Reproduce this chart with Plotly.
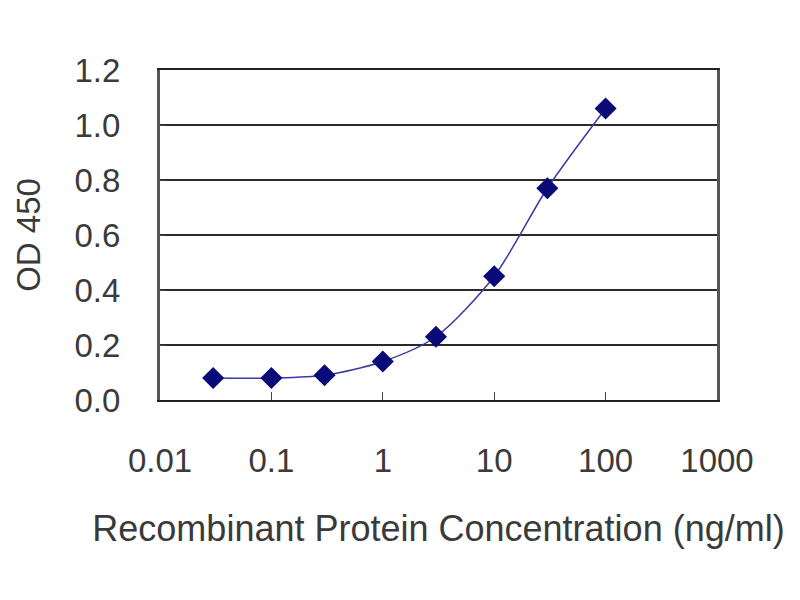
import plotly.graph_objects as go

concentration = [0.03, 0.1, 0.3, 1, 3, 10, 30, 100]
od450 = [0.08, 0.08, 0.09, 0.14, 0.23, 0.45, 0.77, 1.06]
x_ticks = [0.01, 0.1, 1, 10, 100, 1000]
x_tick_labels = ["0.01", "0.1", "1", "10", "100", "1000"]

fig = go.Figure()
fig.add_trace(go.Scatter(
    x=concentration, y=od450, mode="lines+markers",
    line=dict(color="#3a3aa0", width=1.5, shape="spline", smoothing=0.8),
    marker=dict(symbol="diamond", size=17, color="#0a0a78"),
    showlegend=False,
))

font = "Liberation Sans, Arial, sans-serif"
fig.update_layout(
    width=800, height=600,
    margin=dict(l=152, r=91, t=62, b=208),
    paper_bgcolor="white", plot_bgcolor="white",
    font=dict(family=font, size=33, color="#3a3a3a"),
    xaxis=dict(
        type="log", range=[-2, 3], automargin=False,
        tickvals=x_ticks, ticktext=x_tick_labels,
        showgrid=False, showline=True, linecolor="#222222", linewidth=2,
        mirror=True, ticks="inside", ticklen=8, tickcolor="#444444",
        tickfont=dict(size=33), ticklabelstandoff=30,
        title=dict(text="Recombinant Protein Concentration (ng/ml)",
                   font=dict(size=36), standoff=38),
    ),
    yaxis=dict(
        range=[0, 1.2], dtick=0.2, tickformat=".1f", automargin=False,
        showgrid=True, gridcolor="#2a2a2a", gridwidth=2,
        showline=True, linecolor="#555555", linewidth=3, mirror=True,
        ticks="inside", ticklen=6, tickcolor="#444444",
        tickfont=dict(size=33), ticklabelstandoff=30,
        zeroline=False,
        title=dict(text="OD 450", font=dict(size=33), standoff=24),
    ),
)

fig.write_html("out.html")
